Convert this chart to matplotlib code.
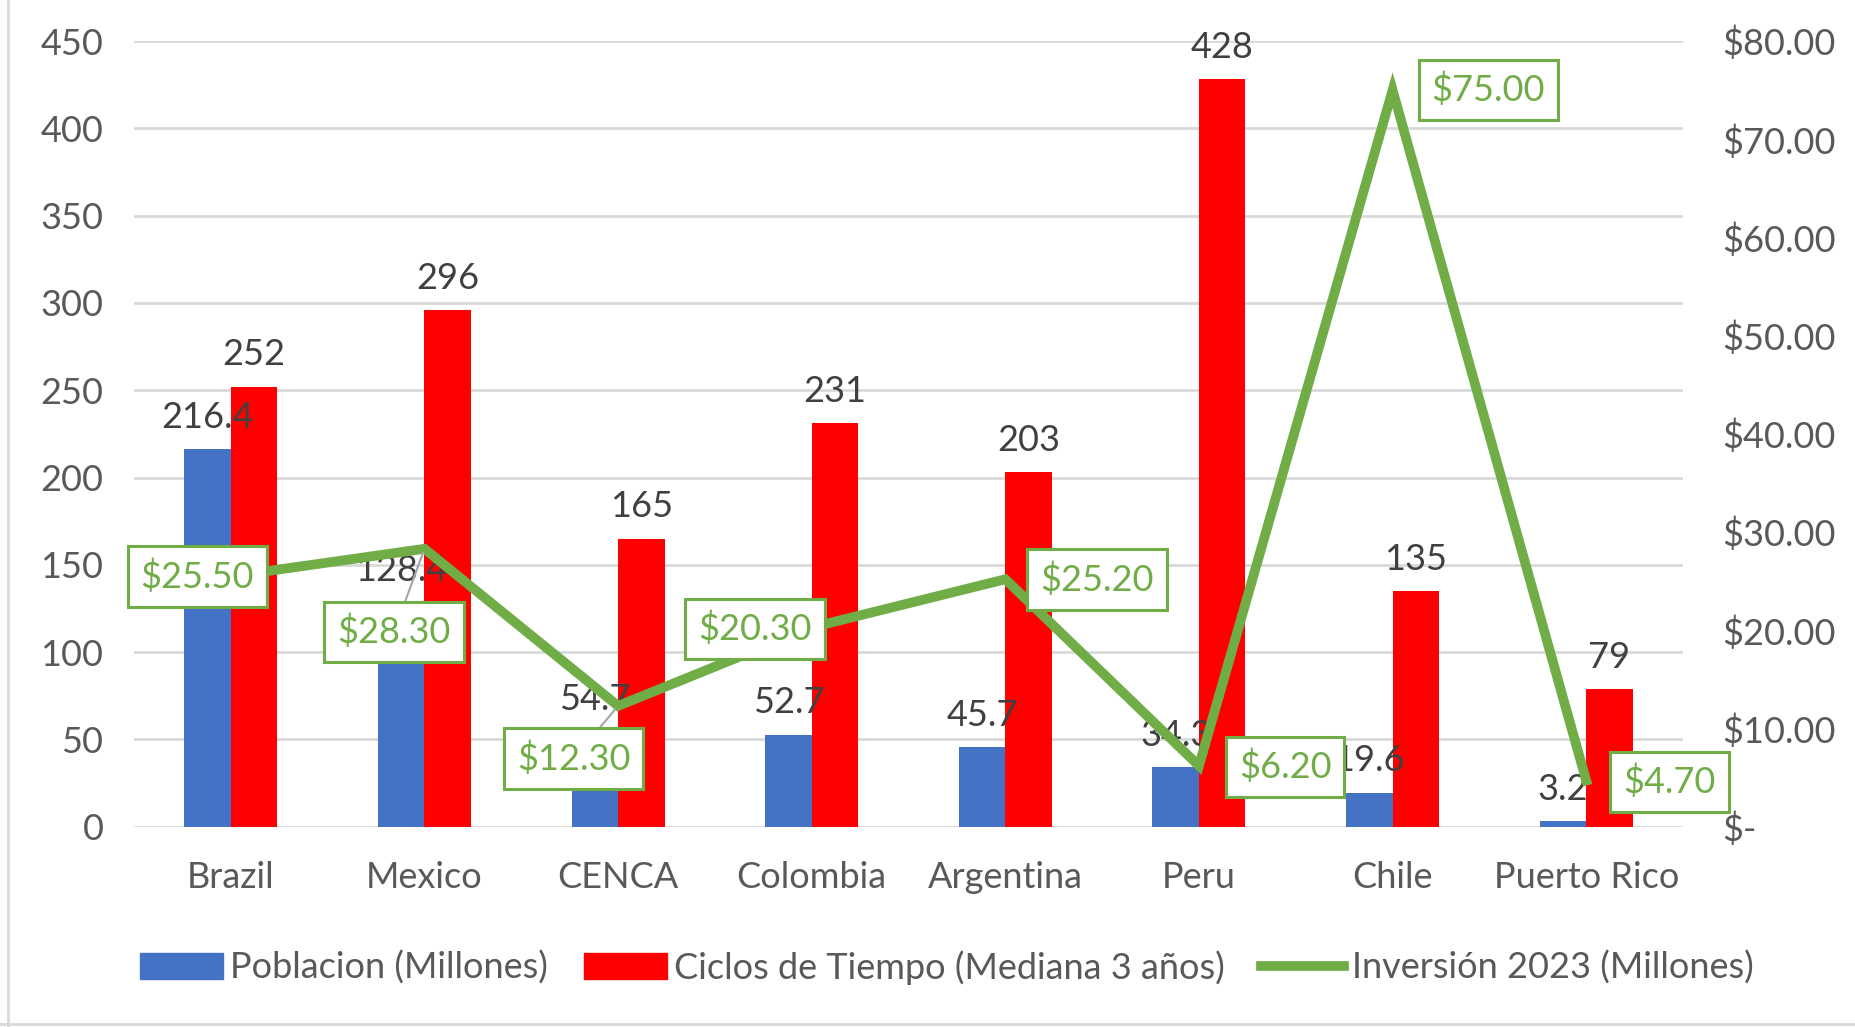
import matplotlib.pyplot as plt
import numpy as np
from matplotlib.lines import Line2D
from matplotlib.patches import Patch

plt.rcParams['font.family'] = ['Lato', 'DejaVu Sans']

#Datos del grafico
paises = ['Brazil', 'Mexico', 'CENCA', 'Colombia', 'Argentina', 'Peru', 'Chile', 'Puerto Rico']
poblacion = [216.4, 128.4, 54.7, 52.7, 45.7, 34.3, 19.6, 3.2]
ciclos = [252, 296, 165, 231, 203, 428, 135, 79]
inversion = [25.5, 28.3, 12.3, 20.3, 25.2, 6.2, 75.0, 4.7]

#Posicion de las etiquetas de inversion (puntos, respecto al punto)
desplaz = [(-24, 0), (-22, -60), (-32, -38), (-41, -1), (66, 0), (62, -1), (69, 0), (60, -1)]
guia = [False, True, True, False, False, False, False, False]

azul = '#4472C4'
rojo = '#FF0000'
verde = '#70AD47'
gris = '#595959'
tam = 26

fig = plt.figure(figsize=(18.56, 10.27), dpi=100)
ax = fig.add_axes([0.0722, 0.195, 0.8346, 0.765])
x = np.arange(len(paises))
ancho = 0.24

b1 = ax.bar(x - ancho / 2, poblacion, ancho, color=azul, zorder=2)
b2 = ax.bar(x + ancho / 2, ciclos, ancho, color=rojo, zorder=2)
ax.bar_label(b1, labels=[f'{v:.1f}' for v in poblacion], padding=11, fontsize=tam, color='#404040')
ax.bar_label(b2, labels=[str(v) for v in ciclos], padding=11, fontsize=tam, color='#404040')

ax.set_xlim(-0.5, len(paises) - 0.5)
ax.set_ylim(0, 450)
ax.set_yticks(np.arange(0, 451, 50))
ax.yaxis.grid(True, color='#D9D9D9', linewidth=2, zorder=0)
ax.set_axisbelow(True)
ax.set_xticks(x)
ax.set_xticklabels(paises)
ax.tick_params(axis='both', length=0, labelsize=tam, labelcolor=gris)
ax.tick_params(axis='y', pad=22)
ax.tick_params(axis='x', pad=25)
for s in ax.spines.values():
    s.set_visible(False)

#Eje secundario para la inversion
ax2 = ax.twinx()
ax2.set_ylim(0, 80)
ax2.set_yticks(np.arange(0, 81, 10))
ax2.set_yticklabels(['$-' if v == 0 else f'${v:.2f}' for v in np.arange(0, 81, 10)])
ax2.tick_params(axis='y', length=0, labelsize=tam, labelcolor=gris, pad=28)
for s in ax2.spines.values():
    s.set_visible(False)
ax2.plot(x, inversion, color=verde, linewidth=7, solid_joinstyle='miter', zorder=3)

for i, v in enumerate(inversion):
    flecha = dict(arrowstyle='-', color='#A6A6A6', lw=1.5, shrinkA=0, shrinkB=3) if guia[i] else None
    ax2.annotate(f'${v:.2f}', xy=(x[i], v), xytext=desplaz[i], textcoords='offset points',
                 ha='center', va='center', fontsize=tam, color=verde, zorder=5,
                 bbox=dict(boxstyle='square,pad=0.36', fc='white', ec=verde, lw=2.2),
                 arrowprops=flecha)

#Leyenda
manejadores = [Patch(color=azul), Patch(color=rojo), Line2D([0], [0], color=verde, lw=7)]
nombres = ['Poblacion (Millones)', 'Ciclos de Tiempo (Mediana 3 años)', 'Inversión 2023 (Millones)']
fig.legend(manejadores, nombres, loc='center', bbox_to_anchor=(0.51, 0.058), ncol=3, frameon=False,
           fontsize=tam, labelcolor=gris, handlelength=2.3, handletextpad=0.2, columnspacing=1.0)

#Borde del area del grafico
fig.add_artist(Line2D([0.0045, 0.0045], [0, 1], color='#D9D9D9', lw=2, transform=fig.transFigure))
fig.add_artist(Line2D([0, 1], [0.003, 0.003], color='#D9D9D9', lw=2, transform=fig.transFigure))

fig.savefig('out.png', dpi=100)
